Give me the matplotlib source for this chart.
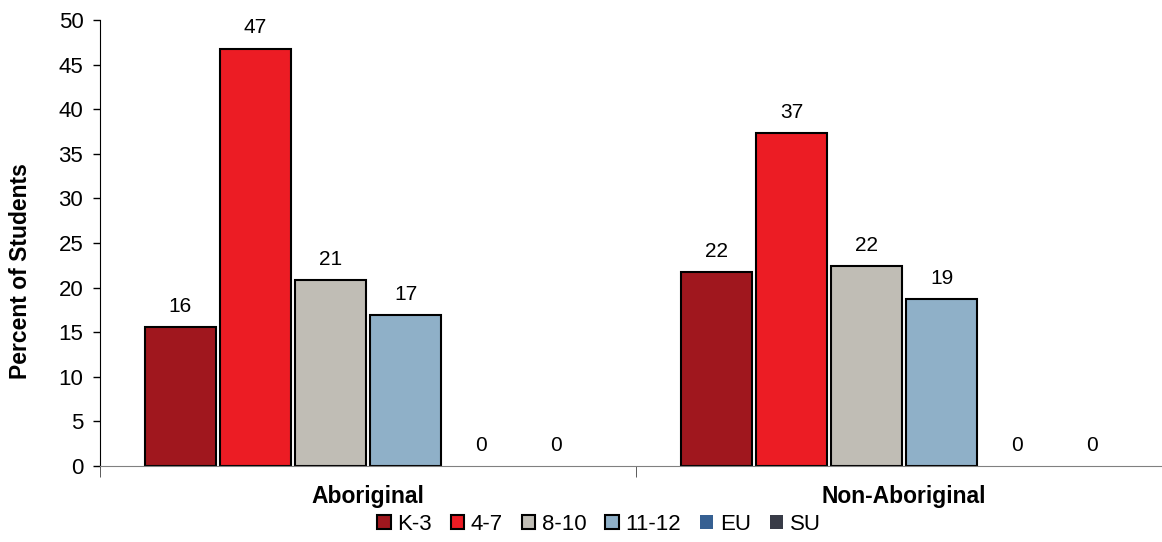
import numpy as np
import matplotlib.pyplot as plt
from matplotlib.patches import Patch

plt.rcParams['font.family'] = ['Liberation Sans', 'DejaVu Sans']

groups = ['Aboriginal', 'Non-Aboriginal']
grades = ['K-3', '4-7', '8-10', '11-12', 'EU', 'SU']
colors = ['#A0171E', '#EC1C24', '#C0BDB5', '#8FB0C8', '#366092', '#383B47']
edges = ['black', 'black', 'black', 'black', 'none', 'none']

# percent of students in each grade band
aboriginal = [15.6, 46.8, 20.8, 16.9, 0, 0]
non_aboriginal = [21.7, 37.3, 22.4, 18.7, 0, 0]
values = np.array([aboriginal, non_aboriginal])

fig = plt.figure(figsize=(11.62, 5.42), dpi=100)
ax = fig.add_axes([100 / 1162, 76 / 542, 1062 / 1162, 446 / 542])

x = np.arange(len(groups))
step = 0.14
width = 0.1325
offsets = (np.arange(len(grades)) - 2.5) * step

for i, g in enumerate(grades):
    bars = ax.bar(x + offsets[i], values[:, i], width, color=colors[i],
                  edgecolor=edges[i], linewidth=1.5, label=g)
    for b, v in zip(bars, values[:, i]):
        ax.annotate('%.0f' % v, (b.get_x() + b.get_width() / 2, v),
                    xytext=(0, 8), textcoords='offset points',
                    ha='center', va='bottom', fontsize=15)

ax.set_xlim(-0.5, -0.5 + 1062 / 536)
ax.set_ylim(0, 50)
ax.set_yticks(range(0, 51, 5))
ax.tick_params(axis='y', labelsize=16, length=5, width=1, direction='out', pad=7)

ax.set_xticks(x)
ax.set_xticklabels(groups, fontsize=16.5, fontweight='bold')
ax.tick_params(axis='x', length=0, pad=14)
ax.set_xticks([-0.5, 0.5], minor=True)
ax.tick_params(axis='x', which='minor', length=8, color='#404040')

for s in ['top', 'right']:
    ax.spines[s].set_visible(False)
ax.spines['bottom'].set_color('#808080')
ax.spines['left'].set_color('black')

fig.text(21 / 1162, 0.5, 'Percent of Students', rotation=90, ha='center',
         va='center', fontsize=16.5, fontweight='bold')

handles = [Patch(facecolor=c, edgecolor=e, linewidth=1.5) for c, e in zip(colors, edges)]
fig.legend(handles, grades, loc='center', bbox_to_anchor=(599 / 1162, 1 - 524 / 542),
           ncol=6, frameon=False, fontsize=16, handlelength=0.6, handleheight=0.6,
           handletextpad=0.3, columnspacing=0.85)

fig.savefig('out.png', dpi=100)
